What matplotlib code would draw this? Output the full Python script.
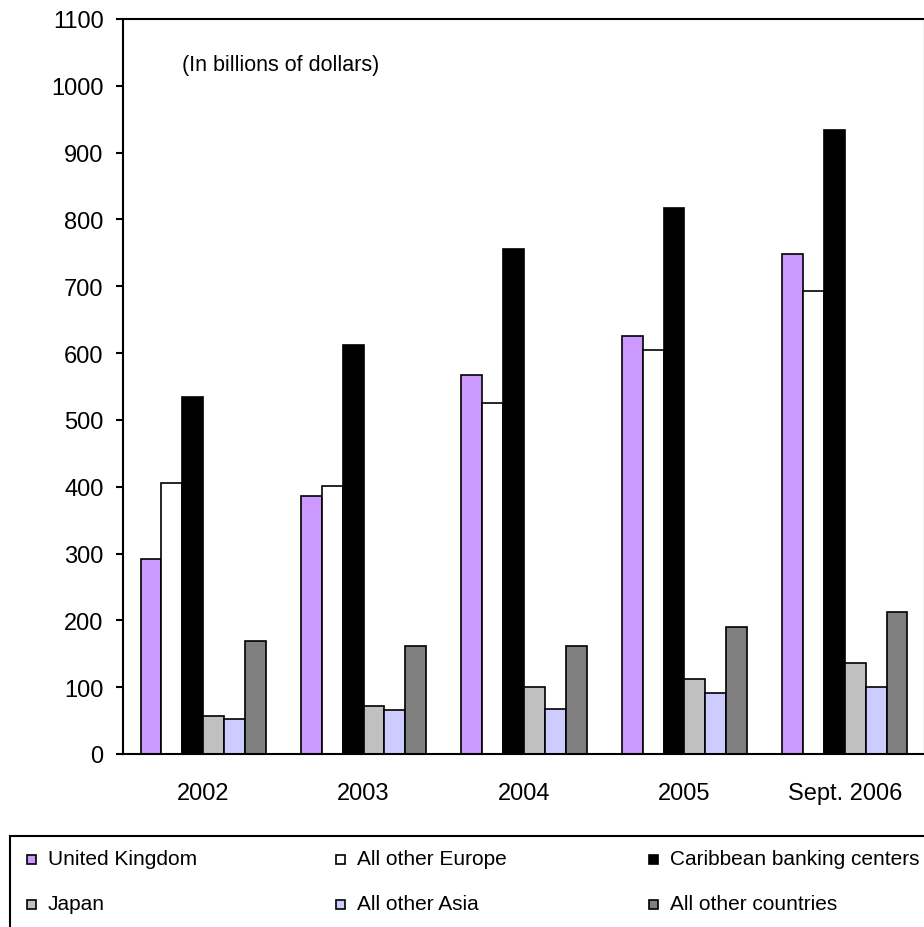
import matplotlib
matplotlib.use("Agg")
import matplotlib.pyplot as plt
from matplotlib.patches import Rectangle
import numpy as np

plt.rcParams['font.family'] = ['Liberation Sans', 'DejaVu Sans']

categories = ["2002", "2003", "2004", "2005", "Sept. 2006"]
series_names = ["United Kingdom", "All other Europe", "Caribbean banking centers",
                "Japan", "All other Asia", "All other countries"]
united_kingdom = [292, 386, 567, 625, 748]
all_other_europe = [406, 401, 526, 605, 693]
caribbean = [534, 612, 756, 817, 934]
japan = [57, 72, 101, 112, 136]
all_other_asia = [52, 66, 68, 91, 101]
all_other_countries = [169, 161, 162, 190, 213]
colors = ["#CC99FF", "#FFFFFF", "#000000", "#C0C0C0", "#CCCCFF", "#808080"]
yticks = list(range(0, 1101, 100))

values = [united_kingdom, all_other_europe, caribbean, japan, all_other_asia, all_other_countries]

W, H = 924, 928
fig = plt.figure(figsize=(W / 100, H / 100), dpi=100)
ax = fig.add_axes([123 / W, (H - 755) / H, (925 - 123) / W, (755 - 20) / H])

x = np.arange(len(categories))
bw = 0.13
n = len(values)
for i, (vals, c) in enumerate(zip(values, colors)):
    offs = (i - (n - 1) / 2) * bw
    ax.bar(x + offs, vals, width=bw, color=c, edgecolor="black", linewidth=1.2)

ax.set_xlim(-0.5, len(categories) - 0.5)
ax.set_ylim(0, 1100)
ax.set_yticks(yticks)
ax.set_yticklabels([str(t) for t in yticks], fontsize=17)
ax.set_xticks(x)
ax.set_xticklabels(categories, fontsize=17)
ax.tick_params(axis='y', direction='out', length=5, width=1.5, pad=9)
ax.tick_params(axis='x', length=0, pad=20)
for s in ax.spines.values():
    s.set_linewidth(1.5)

ax.text((182 - 123) / (925 - 123), (755 - 65) / 735, "(In billions of dollars)",
        transform=ax.transAxes, fontsize=15.5, ha='left', va='center')

# Legend (drawn in figure pixel coordinates)
def px(xp, yp):
    return xp / W, (H - yp) / H

box_x0, box_y0 = px(10, 837)
fig.patches.append(Rectangle((box_x0, -0.05), 1.2, box_y0 + 0.05, transform=fig.transFigure,
                             facecolor="none", edgecolor="black", linewidth=1.5))
col_x = [27, 336, 649]
row_y = [860, 905]
sq = 9
for i, (name, c) in enumerate(zip(series_names, colors)):
    r, cidx = divmod(i, 3)
    mx, my = col_x[cidx], row_y[r]
    x0, y0 = px(mx, my + sq / 2)
    fig.patches.append(Rectangle((x0, y0), sq / W, sq / H, transform=fig.transFigure,
                                 facecolor=c, edgecolor="black", linewidth=1.2))
    tx, ty = px(mx + sq + 12, my)
    fig.text(tx, ty, name, fontsize=15, ha='left', va='center')

fig.savefig("out.png", dpi=100)
